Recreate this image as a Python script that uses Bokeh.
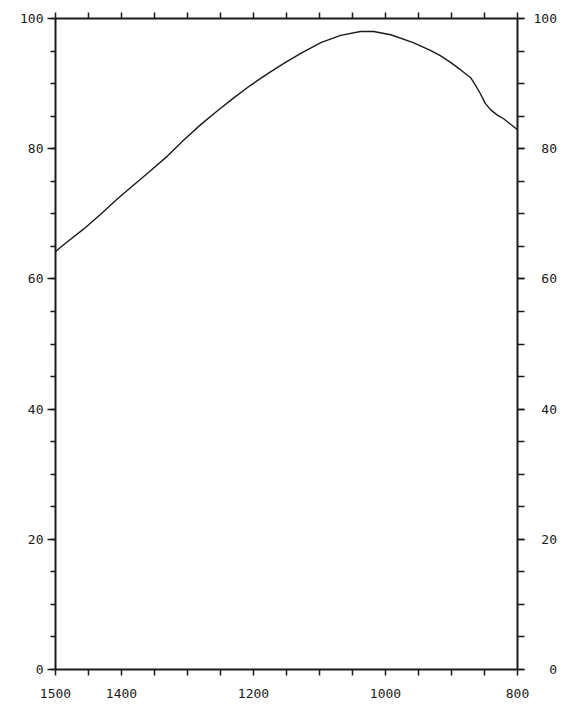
from bokeh.plotting import figure
from bokeh.models import Range1d, LinearAxis, FixedTicker
from bokeh.embed import file_html
from bokeh.resources import INLINE

# Spectrum trace (wavenumber, transmittance %)
wavenumber = [1500, 1482, 1458, 1432, 1406, 1382, 1356, 1330, 1306, 1280,
              1255, 1230, 1205, 1179, 1154, 1129, 1098, 1068, 1038, 1018,
              992, 958, 932, 917, 902, 886, 871, 864, 856, 849,
              841, 831, 821, 811, 800]
transmittance = [64.2, 65.7, 67.6, 69.9, 72.3, 74.4, 76.6, 78.9, 81.3, 83.7,
                 85.8, 87.8, 89.7, 91.5, 93.1, 94.6, 96.3, 97.4, 98.0, 98.0,
                 97.5, 96.3, 95.1, 94.3, 93.3, 92.1, 90.9, 89.8, 88.4, 87.0,
                 86.0, 85.2, 84.6, 83.8, 82.9]

x_ticks = list(range(800, 1501, 50))
x_labels = [1500, 1400, 1200, 1000, 800]
y_major = [0, 20, 40, 60, 80, 100]
y_minor = list(range(0, 101, 5))

FONT = "DejaVu Sans Mono"
INK = "#1a1a1a"

p = figure(width=572, height=706, output_backend="svg", toolbar_location=None,
           x_range=Range1d(1500, 800), y_range=Range1d(0, 100),
           min_border_left=55, min_border_right=55, min_border_top=18, min_border_bottom=37)
p.grid.visible = False
p.outline_line_color = None
p.background_fill_color = "white"
p.border_fill_color = "white"

p.line(wavenumber, transmittance, line_color=INK, line_width=1.4, line_join="round")

def style(ax):
    ax.axis_line_color = INK
    ax.axis_line_width = 2
    ax.major_tick_line_color = INK
    ax.minor_tick_line_color = INK
    ax.major_tick_line_width = 1.5
    ax.minor_tick_line_width = 1.5
    ax.major_tick_in = 0
    ax.minor_tick_in = 0
    ax.major_label_text_font = FONT
    ax.major_label_text_font_size = "13px"
    ax.major_label_text_color = INK

# bottom axis
xb = p.xaxis[0]
style(xb)
xb.ticker = FixedTicker(ticks=x_ticks)
xb.major_tick_out = 6
xb.major_label_standoff = 13
xb.major_label_overrides = {t: ("" if t not in x_labels else str(t)) for t in x_ticks}

# top axis
xt = LinearAxis()
style(xt)
xt.ticker = FixedTicker(ticks=x_ticks)
xt.major_tick_out = 6
xt.major_label_standoff = 0
xt.major_label_overrides = {t: "" for t in x_ticks}
xt.major_label_text_font_size = "0px"
p.add_layout(xt, "above")

# left axis
yl = p.yaxis[0]
style(yl)
yl.ticker = FixedTicker(ticks=y_major, minor_ticks=y_minor)
yl.major_tick_out = 8
yl.minor_tick_out = 5
yl.major_label_standoff = 4

# right axis (labels right-aligned via figure-space padding)
yr = LinearAxis()
style(yr)
yr.ticker = FixedTicker(ticks=y_major, minor_ticks=y_minor)
yr.major_tick_out = 7
yr.minor_tick_out = 7
yr.major_label_standoff = 9
yr.major_label_overrides = {v: str(v).rjust(3, "\u2007") for v in y_major}
p.add_layout(yr, "right")

open("out.html", "w").write(file_html(p, INLINE))
